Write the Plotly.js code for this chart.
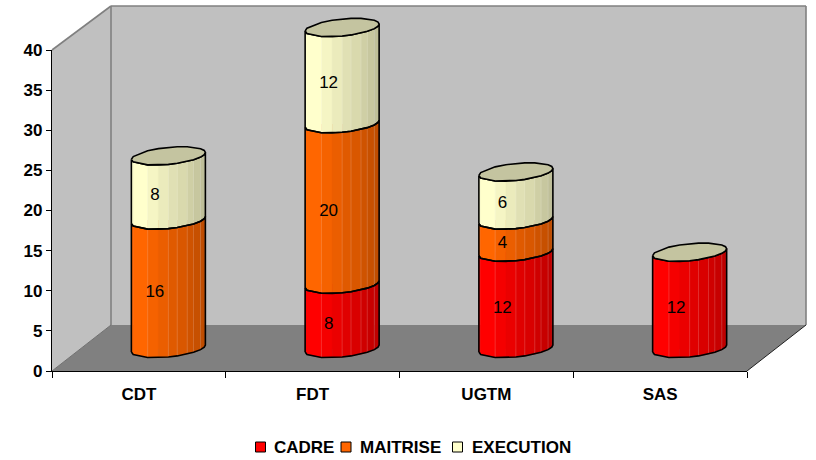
<!DOCTYPE html>
<html>
<head>
<meta charset="utf-8">
<script src="https://cdn.plot.ly/plotly-3.0.1.min.js"></script>
<style>html,body{margin:0;padding:0;background:#fff}#chart{width:816px;height:460px}</style>
</head>
<body>
<div id="chart"></div>
<script>
var categories = ["CDT", "FDT", "UGTM", "SAS"];
var cadre = [0, 8, 12, 12];
var maitrise = [16, 20, 4, 0];
var execution = [8, 12, 6, 0];
var seriesNames = ["CADRE", "MAITRISE", "EXECUTION"];
var seriesColors = [[255, 0, 0], [255, 102, 0], [255, 255, 204]];
var yTicks = [0, 5, 10, 15, 20, 25, 30, 35, 40];

var FONT = "Liberation Sans, Arial, sans-serif";
var L = 52, R = 10, B = 89, W = 816, H = 460;
var plotW = W - L - R, plotH = H - B;
function px(x) { return (x - L) / plotW; }
function py(y) { return (plotH - y) / plotH; }

var unitX = 695 / 4, unitY = 321 / 40;
var rx = 37 / unitX, skew = 3.5 / unitY, ry = 8.5 / unitY;
// facet edges across the visible half of each cylinder, as fractions of its width
var facetEdges = [-1, -0.95, -0.56, -0.27, 0, 0.24, 0.51, 0.68, 0.87, 0.97, 1];
var facetShade = [1, 1, 0.96, 0.92, 0.88, 0.85, 0.81, 0.78, 0.75, 0.75];
var seamEdges = [2, 4, 5, 6, 7, 8];

function rim(i, v, u, side) {
  return { x: i + u * rx, y: v + u * skew + side * Math.sqrt(1 - u * u) * ry };
}
function frontArc(i, v) {
  return facetEdges.map(function (u) { return rim(i, v, u, -1); });
}
var stacks = [cadre, maitrise, execution];
var traces = [];

// carrier bars, with the values, lying inside the drawn cylinders
stacks.forEach(function (vals, s) {
  traces.push({
    type: "bar", x: [0, 1, 2, 3], y: vals, width: 0.3, name: seriesNames[s],
    marker: { color: "rgb(" + seriesColors[s].join(",") + ")", line: { width: 0 } },
    xaxis: "x2", yaxis: "y2", hoverinfo: "skip", showlegend: false
  });
});

// facets
stacks.forEach(function (vals, s) {
  var c = seriesColors[s];
  for (var f = 0; f < facetShade.length; f++) {
    var xs = [], ys = [];
    vals.forEach(function (v, i) {
      if (!v) return;
      var lo = 0;
      for (var k = 0; k < s; k++) lo += stacks[k][i];
      var a = frontArc(i, lo), b = frontArc(i, lo + v);
      xs.push(a[f].x, a[f + 1].x, b[f + 1].x, b[f].x, a[f].x, null);
      ys.push(a[f].y, a[f + 1].y, b[f + 1].y, b[f].y, a[f].y, null);
    });
    var sh = facetShade[f];
    var col = "rgb(" + c.map(function (q) { return Math.round(q * sh); }).join(",") + ")";
    traces.push({
      type: "scatter", mode: "lines", x: xs, y: ys, xaxis: "x2", yaxis: "y2",
      fill: "toself", line: { width: 0.5, color: col },
      fillcolor: col, hoverinfo: "skip", showlegend: false
    });
  }
});

// faint seams between facets
(function () {
  var xs = [], ys = [];
  stacks.forEach(function (vals, s) {
    vals.forEach(function (v, i) {
      if (!v) return;
      var lo = 0;
      for (var k = 0; k < s; k++) lo += stacks[k][i];
      var a = frontArc(i, lo), b = frontArc(i, lo + v);
      seamEdges.forEach(function (e) {
        xs.push(a[e].x, b[e].x, null);
        ys.push(a[e].y, b[e].y, null);
      });
    });
  });
  traces.push({
    type: "scatter", mode: "lines", x: xs, y: ys, xaxis: "x2", yaxis: "y2",
    line: { color: "rgba(255,255,255,0.22)", width: 0.8 }, hoverinfo: "skip", showlegend: false
  });
})();

// outlines of the segments
(function () {
  var xs = [], ys = [];
  stacks.forEach(function (vals, s) {
    vals.forEach(function (v, i) {
      if (!v) return;
      var lo = 0;
      for (var k = 0; k < s; k++) lo += stacks[k][i];
      var a = frontArc(i, lo), b = frontArc(i, lo + v).reverse();
      a.concat(b).concat([a[0]]).forEach(function (p) { xs.push(p.x); ys.push(p.y); });
      xs.push(null); ys.push(null);
    });
  });
  traces.push({
    type: "scatter", mode: "lines", x: xs, y: ys, xaxis: "x2", yaxis: "y2",
    line: { color: "#000", width: 1.6 }, hoverinfo: "skip", showlegend: false
  });
})();

// top caps
(function () {
  var xs = [], ys = [];
  categories.forEach(function (c, i) {
    var t = cadre[i] + maitrise[i] + execution[i];
    var front = frontArc(i, t);
    var back = facetEdges.slice().reverse().map(function (u) { return rim(i, t, u, 1); });
    front.concat(back).forEach(function (p) { xs.push(p.x); ys.push(p.y); });
    xs.push(null); ys.push(null);
  });
  traces.push({
    type: "scatter", mode: "lines", x: xs, y: ys, xaxis: "x2", yaxis: "y2",
    fill: "toself", fillcolor: "#C4C4A0", line: { color: "#000", width: 1.6 },
    hoverinfo: "skip", showlegend: false
  });
})();

// data labels on the front of the cylinders
(function () {
  var xs = [], ys = [], ts = [];
  stacks.forEach(function (vals, s) {
    vals.forEach(function (v, i) {
      if (!v) return;
      var lo = 0;
      for (var k = 0; k < s; k++) lo += stacks[k][i];
      xs.push(i - 13.5 / unitX); ys.push(lo + v / 2 - 8 / unitY); ts.push(String(v));
    });
  });
  traces.push({
    type: "scatter", mode: "text", x: xs, y: ys, text: ts, textposition: "middle center",
    textfont: { family: FONT, size: 17, color: "#000" }, xaxis: "x2", yaxis: "y2",
    hoverinfo: "skip", showlegend: false
  });
})();

// anchors the category axis
traces.push({
  type: "scatter", mode: "markers", x: categories, y: [0, 0, 0, 0],
  marker: { opacity: 0, size: 1 }, hoverinfo: "skip", showlegend: false
});

function poly(pts, fill) {
  var d = pts.map(function (p, i) { return (i ? "L" : "M") + px(p[0]) + "," + py(p[1]); }).join("") + "Z";
  return { type: "path", xref: "paper", yref: "paper", path: d, fillcolor: fill, line: { width: 0 }, layer: "below" };
}
function seg(a, b, col, w) {
  return { type: "line", xref: "paper", yref: "paper", x0: px(a[0]), y0: py(a[1]), x1: px(b[0]), y1: py(b[1]),
    line: { color: col, width: w }, layer: "below" };
}
var shapes = [
  poly([[111, 6], [806, 6], [806, 325], [111, 325]], "#C0C0C0"),
  poly([[52, 50], [111, 6], [111, 325], [52, 371]], "#C0C0C0"),
  poly([[52, 371], [111, 325], [806, 325], [747, 371]], "#808080"),
  seg([52, 50], [111, 6], "#808080", 1.6),
  seg([111, 6], [806, 6], "#808080", 1.6),
  seg([806, 6], [806, 325], "#808080", 1.6),
  seg([111, 6], [111, 325], "#808080", 1.6),
  seg([52, 371], [111, 325], "#707070", 1),
  seg([747, 371], [806, 325], "#202020", 1)
];

// key
var keyX = [255.5, 341, 452.5], keyTextX = [273, 359, 470.5], keyY = 447;
var annotations = [];
seriesNames.forEach(function (n, s) {
  shapes.push({
    type: "rect", xref: "paper", yref: "paper", x0: px(keyX[s]), x1: px(keyX[s] + 10),
    y0: py(keyY - 5), y1: py(keyY + 5),
    fillcolor: "rgb(" + seriesColors[s].join(",") + ")", line: { color: "#000", width: 1 }
  });
  annotations.push({
    xref: "paper", yref: "paper", x: px(keyTextX[s]), y: py(keyY), xanchor: "left", yanchor: "middle",
    text: n, showarrow: false, xshift: -1, font: { family: FONT, size: 17, weight: 700, color: "#000" }
  });
});

var layout = {
  width: W, height: H, paper_bgcolor: "#fff", plot_bgcolor: "rgba(0,0,0,0)",
  margin: { l: L, r: R, t: 0, b: B, pad: 0 }, barmode: "stack", showlegend: false,
  xaxis: {
    domain: [0, 695 / plotW], type: "category", categoryorder: "array", categoryarray: categories,
    range: [-0.5, 3.5], fixedrange: true, showgrid: false, zeroline: false, showline: true,
    linecolor: "#000", linewidth: 1.2, ticks: "outside", ticklen: 6, tickcolor: "#000", tickwidth: 1,
    tickson: "boundaries", ticklabelstandoff: 7, anchor: "y",
    tickfont: { family: FONT, size: 17, weight: 700, color: "#000" }
  },
  yaxis: {
    domain: [0, 321 / plotH], range: [0, 40], tickmode: "array", tickvals: yTicks, ticktext: yTicks.map(String),
    fixedrange: true, showgrid: false, zeroline: false, showline: true, linecolor: "#000", linewidth: 1.2,
    ticks: "outside", ticklen: 5, tickcolor: "#000", tickwidth: 1, anchor: "x",
    tickfont: { family: FONT, size: 17, weight: 700, color: "#000" }
  },
  xaxis2: {
    domain: [29.5 / plotW, (29.5 + 695) / plotW], range: [-0.5, 3.5], type: "linear", visible: false,
    fixedrange: true, anchor: "y2"
  },
  yaxis2: {
    domain: [py(348.5 + 2.5 * unitY), py(27.5 - 3 * unitY)], range: [-2.5, 43], type: "linear", visible: false,
    fixedrange: true, anchor: "x2"
  },
  shapes: shapes, annotations: annotations
};
Plotly.newPlot("chart", traces, layout, { displayModeBar: false, staticPlot: true });
</script>
</body>
</html>
